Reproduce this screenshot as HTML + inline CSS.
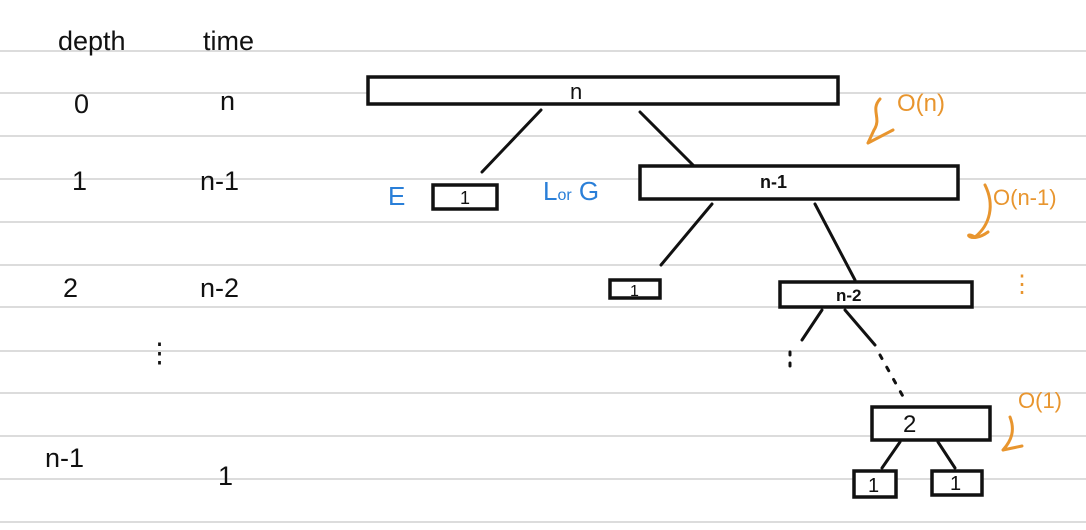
<!DOCTYPE html>
<html><head><meta charset="utf-8"><style>
html,body{margin:0;padding:0;background:#fff;width:1086px;height:530px;overflow:hidden}
svg{display:block}
text{font-family:"Liberation Sans",sans-serif;fill:#111}
.b{fill:#fff;stroke:#111;stroke-width:3.5}
.l{stroke:#111;stroke-width:3;fill:none;stroke-linecap:round}
.o{stroke:#e8952e;stroke-width:3;fill:none;stroke-linecap:round}
.ot{fill:#e8952e}
.bl{fill:#2a7fd8}
</style></head><body>
<svg width="1086" height="530">
<g stroke="#dcdcdc" stroke-width="2">
<line x1="0" x2="1086" y1="51" y2="51"/><line x1="0" x2="1086" y1="93" y2="93"/>
<line x1="0" x2="1086" y1="136" y2="136"/><line x1="0" x2="1086" y1="179" y2="179"/>
<line x1="0" x2="1086" y1="222" y2="222"/><line x1="0" x2="1086" y1="265" y2="265"/>
<line x1="0" x2="1086" y1="307" y2="307"/><line x1="0" x2="1086" y1="351" y2="351"/>
<line x1="0" x2="1086" y1="393" y2="393"/><line x1="0" x2="1086" y1="436" y2="436"/>
<line x1="0" x2="1086" y1="479" y2="479"/><line x1="0" x2="1086" y1="522" y2="522"/>
</g>
<g font-size="27">
<text x="58" y="50">depth</text>
<text x="203" y="50">time</text>
<text x="74" y="113">0</text><text x="220" y="110">n</text>
<text x="72" y="190">1</text><text x="200" y="190">n-1</text>
<text x="63" y="297">2</text><text x="200" y="297">n-2</text>
<text x="146" y="362">⋮</text>
<text x="45" y="467">n-1</text><text x="218" y="485">1</text>
</g>
<g>
<line class="l" x1="541" y1="110" x2="482" y2="172"/>
<line class="l" x1="640" y1="112" x2="693" y2="165"/>
<line class="l" x1="712" y1="204" x2="661" y2="265"/>
<line class="l" x1="815" y1="204" x2="855" y2="280"/>
<line class="l" x1="822" y1="310" x2="802" y2="340"/>
<line class="l" x1="790" y1="352" x2="790" y2="370" stroke-dasharray="3 8"/>
<line class="l" x1="845" y1="310" x2="875" y2="345"/>
<line class="l" x1="880" y1="355" x2="905" y2="400" stroke-dasharray="4 10"/>
<line class="l" x1="900" y1="442" x2="882" y2="468"/>
<line class="l" x1="938" y1="442" x2="955" y2="468"/>
<rect class="b" x="368" y="77" width="470" height="27"/>
<text x="570" y="99" font-size="22">n</text>
<rect class="b" x="433" y="185" width="64" height="24"/>
<text x="460" y="204" font-size="18">1</text>
<rect class="b" x="640" y="166" width="318" height="33"/>
<text x="760" y="188" font-size="18" font-weight="bold">n-1</text>
<rect class="b" x="610" y="280" width="50" height="18"/>
<text x="630" y="296" font-size="16">1</text>
<rect class="b" x="780" y="282" width="192" height="25"/>
<text x="836" y="301" font-size="17" font-weight="bold">n-2</text>
<rect class="b" x="872" y="407" width="118" height="33"/>
<text x="903" y="432" font-size="24">2</text>
<rect class="b" x="854" y="471" width="42" height="26"/>
<text x="868" y="492" font-size="20">1</text>
<rect class="b" x="932" y="471" width="50" height="24"/>
<text x="950" y="490" font-size="20">1</text>
</g>
<text class="bl" x="388" y="205" font-size="26">E</text>
<text class="bl" x="543" y="200" font-size="26">L<tspan font-size="16">or</tspan> G</text>
<g>
<path class="o" d="M880 99 C870 110 882 118 874 130 L868 143 M868 143 L893 130"/>
<text class="ot" x="897" y="111" font-size="24">O(n)</text>
<path class="o" d="M985 185 C995 205 990 225 975 237 M975 237 C962 230 970 245 988 232"/>
<text class="ot" x="993" y="205" font-size="22">O(n-1)</text>
<text class="ot" x="1010" y="292" font-size="24">⋮</text>
<path class="o" d="M1010 417 C1015 430 1012 440 1003 450 M1003 450 L1022 446"/>
<text class="ot" x="1018" y="408" font-size="22">O(1)</text>
</g>
</svg>
</body></html>
